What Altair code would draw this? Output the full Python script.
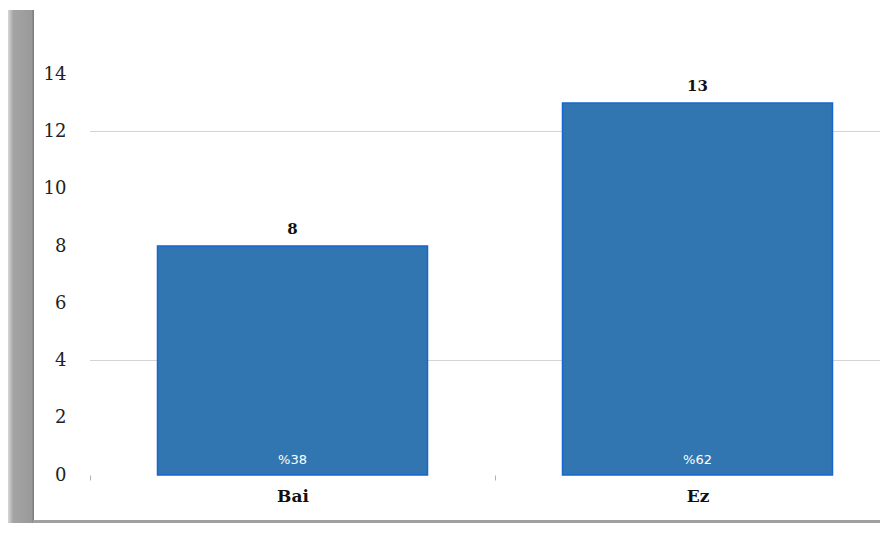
import altair as alt
import pandas as pd

categories = ["Bai", "Ez"]
counts = [8, 13]
percents = ["%38", "%62"]
y_ticks = [0, 2, 4, 6, 8, 10, 12, 14]
grid_values = [4, 12]

df = pd.DataFrame({"cat": categories, "n": counts, "pct": percents})
grid_df = pd.DataFrame({"v": grid_values})
one = pd.DataFrame({"a": [0]})

SERIF = "DejaVu Serif"

xscale = alt.Scale(domain=categories, range=[0, 810], paddingInner=1/3, paddingOuter=1/6)
xscale_axis = alt.Scale(domain=categories, range=[0, 810], paddingInner=0, paddingOuter=0)
yscale = alt.Scale(domain=[0, 16])

x_bar = alt.X("cat:N", scale=xscale, sort=categories, axis=None)
y_enc = alt.Y("n:Q", scale=yscale,
              axis=alt.Axis(title=None, values=y_ticks, grid=False, domain=False, ticks=False,
                            labelFont=SERIF, labelFontSize=18, labelColor="#222",
                            labelPadding=24))

left_band = alt.Chart(one).mark_rect(
    color=alt.LinearGradient(gradient="linear", x1=0, x2=1, y1=0, y2=0,
                             stops=[alt.GradientStop(color="#d8d8d8", offset=0),
                                    alt.GradientStop(color="#a4a4a4", offset=0.2),
                                    alt.GradientStop(color="#9a9a9a", offset=0.9),
                                    alt.GradientStop(color="#777777", offset=1)])
).encode(x=alt.value(-82), x2=alt.value(-56), y=alt.value(-7), y2=alt.value(508))

bottom_band = alt.Chart(one).mark_rect(color="#a0a0a0").encode(
    x=alt.value(-57), x2=alt.value(800), y=alt.value(503), y2=alt.value(507))

grid = alt.Chart(grid_df).mark_rule(color="#d4d4d4", strokeWidth=1).encode(
    y=alt.Y("v:Q", scale=yscale), x=alt.value(0), x2=alt.value(800))

axis_layer = alt.Chart(df).mark_point(opacity=0).encode(
    x=alt.X("cat:N", scale=xscale_axis, sort=categories,
            axis=alt.Axis(title=None, labelAngle=0, domain=False, ticks=True,
                          tickBand="extent", tickColor="#b0b0b0", tickSize=5,
                          labelFont=SERIF, labelFontSize=17, labelFontWeight="bold",
                          labelColor="#111", labelPadding=8)),
    y=alt.datum(0, scale=yscale))

bars = alt.Chart(df).mark_bar(color="#3276B1", stroke="#1466D2", strokeWidth=1.5).encode(
    x=x_bar, y=y_enc)

top_text = alt.Chart(df).mark_text(baseline="bottom", dy=-9, font=SERIF, fontSize=15,
                                   fontWeight="bold", color="#111").encode(
    x=x_bar, y=alt.Y("n:Q", scale=yscale), text="n:Q")

pct_text = alt.Chart(df).mark_text(baseline="bottom", dy=-8, font="DejaVu Sans", fontSize=13,
                                   color="white").encode(
    x=x_bar, y=alt.datum(0), text="pct:N")

chart = alt.layer(left_band, bottom_band, grid, axis_layer, bars, top_text, pct_text).resolve_scale(
    x="independent").properties(
    width=790, height=458,
    autosize=alt.AutoSizeParams(type="none"),
    padding={"left": 82, "top": 9, "right": 0, "bottom": 48},
    background="white",
).configure_view(stroke=None)

chart.save("out.html", embed_options={"renderer": "svg", "actions": False})
